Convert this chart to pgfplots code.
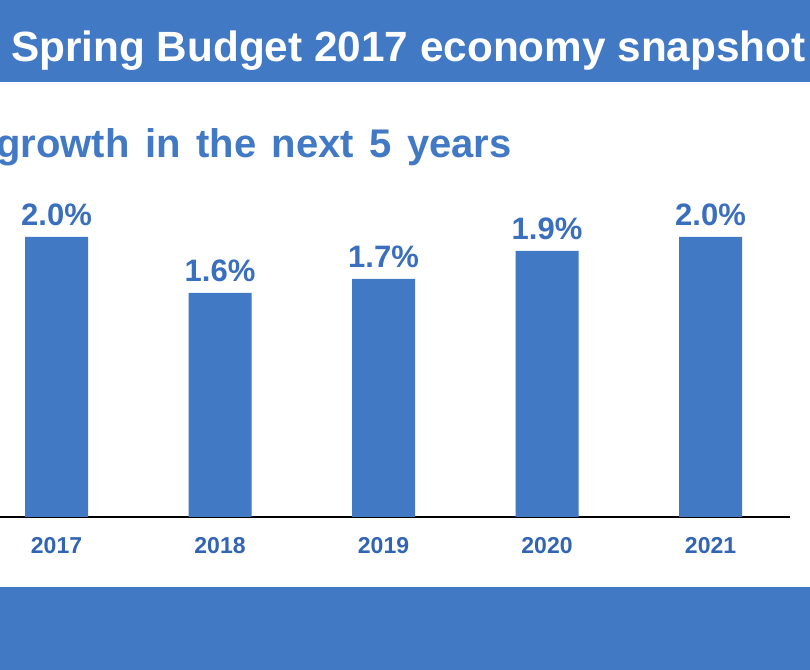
\documentclass[border=0pt]{standalone}
\usepackage{pgfplots}
\pgfplotsset{compat=1.18}
\usepackage{fontspec}
\setmainfont{Liberation Sans}
\definecolor{band}{RGB}{66,121,197}
\definecolor{barc}{RGB}{66,121,197}
\definecolor{lab}{RGB}{58,110,190}
\definecolor{tick}{RGB}{50,100,180}
\begin{document}
\begin{tikzpicture}[x=1bp,y=1bp]
\useasboundingbox (0,0) rectangle (810,670);
\clip (0,0) rectangle (810,670);
\fill[white] (0,0) rectangle (810,670);
\fill[band] (0,588) rectangle (810,670);
\fill[band] (0,0) rectangle (810,83);
\node[anchor=base west, inner sep=0pt, text=white, font=\fontsize{42.3bp}{48bp}\selectfont\bfseries] at (11,608) {Spring Budget 2017 economy snapshot};
\node[anchor=base east, inner sep=0pt, text=band, font=\fontsize{40bp}{44bp}\selectfont\bfseries] at (512,512) {\spaceskip=15.5bp\relax growth in the next 5 years};
\begin{axis}[
  at={(0bp,153bp)}, anchor=south west,
  scale only axis,
  width=790bp, height=308bp,
  xmin=-0.3456, xmax=4.486,
  ymin=0, ymax=2.2,
  axis x line=bottom, axis y line=none,
  x axis line style={-, black, line width=2bp},
  xtick=data,
  xticklabels={2017,2018,2019,2020,2021},
  major tick length=0pt,
  xticklabel style={anchor=north, yshift=-17bp, text=tick, font=\fontsize{23bp}{26bp}\selectfont\bfseries},
  ybar, bar width=63bp,
  /pgf/number format/assume math mode=true,
  nodes near coords={\pgfmathprintnumber[fixed,fixed zerofill,precision=1,assume math mode=true]{\pgfplotspointmeta}\%},
  every node near coord/.append style={text=lab, font=\fontsize{31bp}{34bp}\selectfont\bfseries, anchor=south, yshift=8bp},
  clip=false,
]
\addplot[fill=barc, draw=none] coordinates {(0,2.0) (1,1.6) (2,1.7) (3,1.9) (4,2.0)};
\end{axis}
\end{tikzpicture}
\end{document}
